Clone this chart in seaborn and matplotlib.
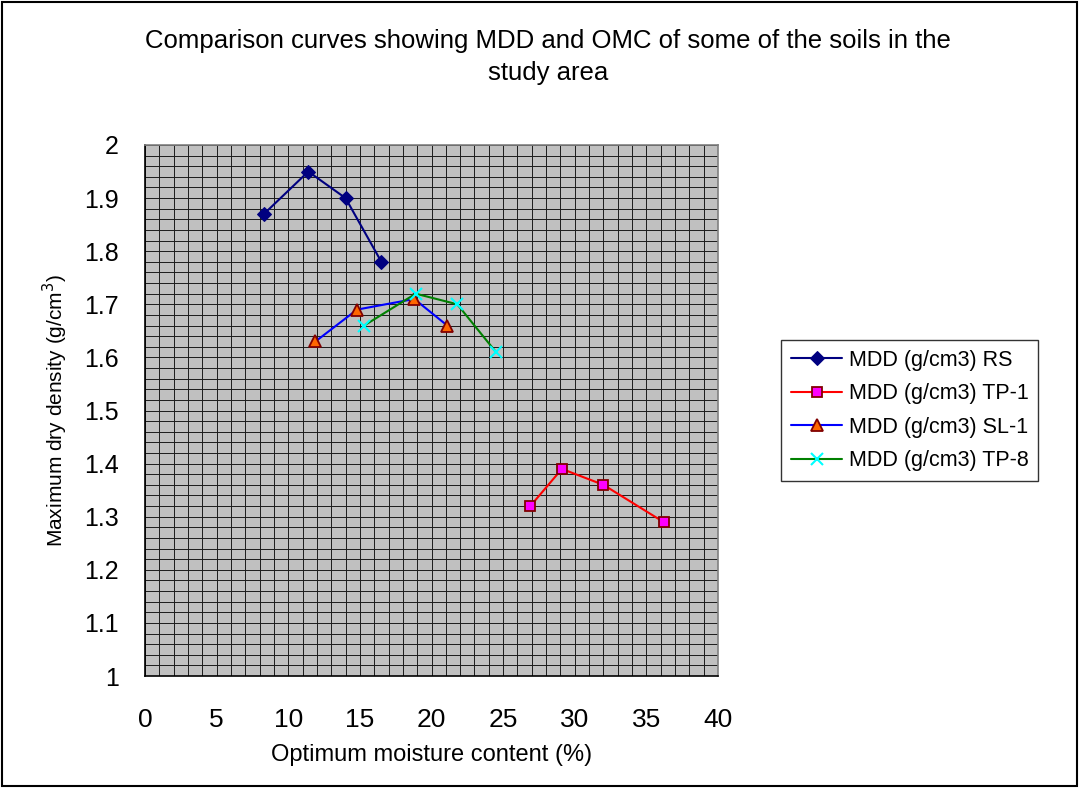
import matplotlib
matplotlib.use("Agg")
import matplotlib.pyplot as plt
import seaborn as sns
import pandas as pd
from matplotlib.ticker import MultipleLocator, FuncFormatter
from matplotlib.patches import Rectangle

# Data
rs_omc = [8.3, 11.4, 14.0, 16.5]
rs_mdd = [1.87, 1.95, 1.90, 1.78]
tp1_omc = [26.9, 29.1, 32.0, 36.2]
tp1_mdd = [1.32, 1.39, 1.36, 1.29]
sl1_omc = [11.9, 14.8, 18.8, 21.1]
sl1_mdd = [1.63, 1.69, 1.71, 1.66]
tp8_omc = [15.3, 18.9, 21.8, 24.5]
tp8_mdd = [1.66, 1.72, 1.70, 1.61]
series_names = ["MDD (g/cm3) RS", "MDD (g/cm3) TP-1", "MDD (g/cm3) SL-1", "MDD (g/cm3) TP-8"]

sns.set_style("white")
plt.rcParams['font.family'] = ['Liberation Sans', 'DejaVu Sans']
plt.rcParams['text.color'] = 'black'
plt.rcParams['axes.labelcolor'] = 'black'

fig = plt.figure(figsize=(10.79, 7.88), dpi=100)
ax = fig.add_axes([145/1079, 1-676/788, (718-145)/1079, (676-145)/788])
ax.set_facecolor("#C0C0C0")

styles = [
    dict(color="#000080", marker="D", markerfacecolor="#000080", markeredgecolor="#000080", markersize=7),
    dict(color="#FF0000", marker="s", markerfacecolor="#FF00FF", markeredgecolor="#800000", markersize=7, markeredgewidth=1.3),
    dict(color="#0000FF", marker="^", markerfacecolor="#FF6600", markeredgecolor="#800000", markersize=9, markeredgewidth=1.3),
    dict(color="#008000", marker="x", markeredgecolor="#00FFFF", markersize=9, markeredgewidth=1.5),
]
data = [(rs_omc, rs_mdd), (tp1_omc, tp1_mdd), (sl1_omc, sl1_mdd), (tp8_omc, tp8_mdd)]
for (xs, ys), name, st in zip(data, series_names, styles):
    df = pd.DataFrame({"omc": xs, "mdd": ys})
    sns.lineplot(data=df, x="omc", y="mdd", sort=False, ax=ax, label=name,
                 linewidth=1.5, zorder=5, **st)

ax.set_xlim(0, 40)
ax.set_ylim(1, 2)
ax.xaxis.set_major_locator(MultipleLocator(5))
ax.xaxis.set_minor_locator(MultipleLocator(1))
ax.yaxis.set_major_locator(MultipleLocator(0.1))
ax.yaxis.set_minor_locator(MultipleLocator(0.02))
ax.yaxis.set_major_formatter(FuncFormatter(lambda v, p: f"{round(v, 2):g}"))
ax.grid(True, which="both", color="#1a1a1a", linewidth=0.7)
ax.set_axisbelow(True)
ax.tick_params(axis="x", which="major", direction="out", length=8, width=1, labelsize=19, pad=15, colors="black")
ax.tick_params(axis="y", which="major", direction="out", length=8, width=1, labelsize=18, pad=11, colors="black")
ax.tick_params(which="minor", length=0)
for s in ["left", "bottom"]:
    ax.spines[s].set_color("black")
    ax.spines[s].set_linewidth(1.2)
for s in ["top", "right"]:
    ax.spines[s].set_color("#808080")
    ax.spines[s].set_linewidth(1.2)

ax.set_xlabel("Optimum moisture content (%)", fontsize=17, labelpad=9)
ax.set_ylabel("Maximum dry density (g/cm$^3$)", fontsize=15, labelpad=10)

fig.text(548/1079, 1-57/788, "Comparison curves showing MDD and OMC of some of the soils in the\nstudy area",
         ha="center", va="center", multialignment="center", fontsize=18.5, linespacing=1.4)

leg = ax.legend(loc="upper left", bbox_to_anchor=(781/1079, 1-340/788), bbox_transform=fig.transFigure,
                frameon=True, fancybox=False, edgecolor="black", fontsize=15.5, borderpad=0.45,
                borderaxespad=0, handlelength=2.4, handletextpad=0.3, labelspacing=0.58)
leg.get_frame().set_linewidth(1.0)

fig.patches.append(Rectangle((0.002, 0.002), 0.996, 0.996, transform=fig.transFigure,
                             fill=False, edgecolor="black", linewidth=1.5))

fig.savefig("out.png", dpi=100)
